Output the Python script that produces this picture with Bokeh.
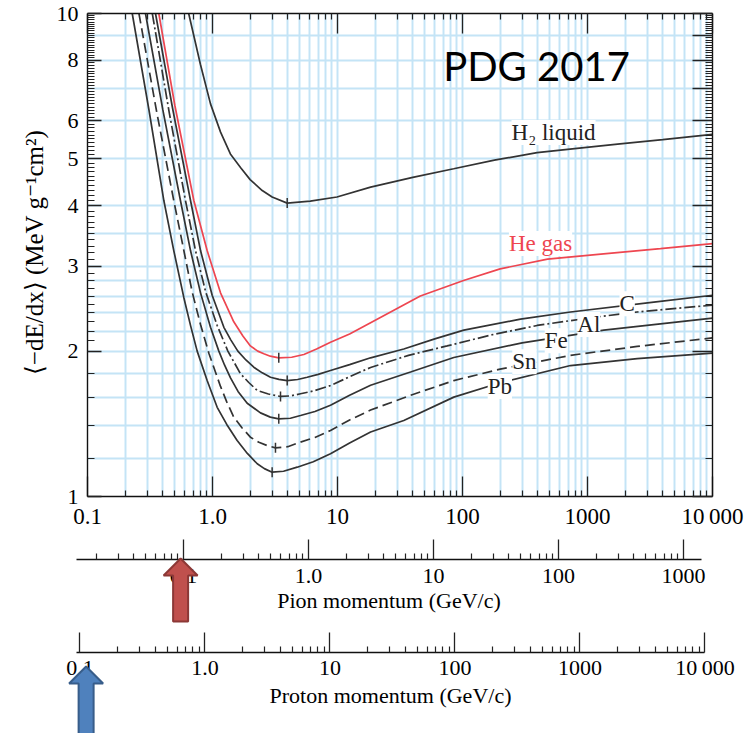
import numpy as np
from bokeh.plotting import figure
from bokeh.models import FixedTicker, LogAxis, Range1d, Label, LogScale, CustomJSTickFormatter
from bokeh.layouts import column
from bokeh.embed import file_html
from bokeh.resources import INLINE

# ---------------- data ----------------
# x: beta*gamma = p/Mc ; y: <-dE/dx> in MeV g^-1 cm^2
H2_BG = [0.645, 0.80, 0.964, 1.16, 1.39, 1.675, 2.0, 2.5, 3.0, 3.96, 6.06, 9.9, 18.4, 40, 85, 180, 395, 900, 1820, 4000, 10000]
H2_DEDX = [10.0, 7.85, 6.5, 5.68, 5.12, 4.80, 4.53, 4.30, 4.17, 4.05, 4.09, 4.17, 4.37, 4.58, 4.77, 4.97, 5.15, 5.27, 5.37, 5.48, 5.62]

HE_BG = [0.372, 0.5, 0.709, 0.906, 1.159, 1.48, 1.75, 2.01, 2.3, 2.575, 2.9, 3.39, 4.3, 5.38, 6.8, 8.79, 12.5, 18.4, 46, 102, 200, 479, 1343, 3837, 10000]
HE_DEDX = [10.0, 6.45, 4.10, 3.23, 2.64, 2.30, 2.15, 2.05, 2.0, 1.975, 1.952, 1.937, 1.942, 1.968, 2.02, 2.087, 2.17, 2.29, 2.60, 2.80, 2.96, 3.10, 3.18, 3.26, 3.34]

C_BG = [0.35, 0.48, 0.667, 0.802, 0.994, 1.233, 1.4, 1.595, 1.85, 2.14, 2.5, 2.91, 3.4, 3.96, 4.8, 5.72, 7.0, 8.79, 12.5, 18.4, 33.9, 60, 102.5, 291, 731, 3394, 10000]
C_DEDX = [10.0, 6.35, 4.10, 3.23, 2.61, 2.24, 2.11, 2.0, 1.917, 1.852, 1.803, 1.766, 1.748, 1.738, 1.747, 1.766, 1.79, 1.823, 1.875, 1.937, 2.02, 2.12, 2.21, 2.33, 2.41, 2.525, 2.61]

AL_BG = [0.33, 0.45, 0.608, 0.731, 0.879, 1.09, 1.327, 1.675, 1.95, 2.28, 2.8, 3.5, 4.2, 5.06, 6.5, 8.79, 12.5, 18.4, 37, 75.4, 170, 395, 1000, 2497, 10000]
AL_DEDX = [10.0, 6.25, 4.10, 3.23, 2.66, 2.26, 2.0, 1.795, 1.722, 1.658, 1.63, 1.611, 1.615, 1.632, 1.655, 1.697, 1.77, 1.85, 1.96, 2.05, 2.16, 2.26, 2.34, 2.41, 2.49]

FE_BG = [0.291, 0.40, 0.554, 0.667, 0.802, 0.964, 1.124, 1.25, 1.393, 1.6, 1.895, 2.42, 2.9, 3.39, 4.2, 5.06, 6.6, 8.79, 12.5, 18.4, 38.4, 85.2, 300, 1351, 10000]
FE_DEDX = [10.0, 6.33, 4.10, 3.23, 2.64, 2.24, 2.0, 1.87, 1.76, 1.65, 1.56, 1.49, 1.46, 1.448, 1.452, 1.471, 1.50, 1.545, 1.62, 1.70, 1.81, 1.94, 2.08, 2.21, 2.34]

SN_BG = [0.258, 0.36, 0.49, 0.59, 0.688, 0.802, 0.935, 1.159, 1.3, 1.48, 1.72, 2.01, 2.35, 2.74, 3.19, 4.0, 5.06, 6.6, 8.79, 12.5, 18.4, 38.4, 85.2, 200, 731, 2500, 10000]
SN_DEDX = [10.0, 6.2, 4.10, 3.23, 2.65, 2.27, 1.98, 1.69, 1.57, 1.46, 1.388, 1.327, 1.295, 1.275, 1.261, 1.268, 1.296, 1.325, 1.37, 1.44, 1.51, 1.62, 1.738, 1.835, 1.96, 2.045, 2.13]

PB_BG = [0.228, 0.31, 0.408, 0.49, 0.59, 0.67, 0.754, 0.906, 1.09, 1.3, 1.575, 1.9, 2.28, 2.6, 3.0, 3.7, 4.76, 6.4, 8.79, 12.5, 18.4, 33.9, 85.2, 200, 731, 2500, 10000]
PB_DEDX = [10.0, 6.32, 4.10, 3.23, 2.58, 2.25, 2.0, 1.738, 1.53, 1.41, 1.306, 1.228, 1.169, 1.142, 1.123, 1.128, 1.15, 1.18, 1.226, 1.29, 1.36, 1.437, 1.606, 1.72, 1.867, 1.93, 1.98]

# minimum-ionization markers (H2, He, C, Al, Fe, Sn, Pb)
MIN_BG = [3.96, 3.39, 3.96, 3.5, 3.39, 3.19, 3.0]
MIN_DEDX = [4.05, 1.937, 1.738, 1.611, 1.448, 1.261, 1.123]

CURVE_LABELS = ["H\u2082 liquid", "He gas", "C", "Al", "Fe", "Sn", "Pb"]

X_TICKS = [0.1, 1, 10, 100, 1000, 10000]
X_TICK_LABELS = ["0.1", "1.0", "10", "100", "1000", "10\u2009000"]
Y_TICKS = [1, 2, 3, 4, 5, 6, 8, 10]
Y_TICK_LABELS = ["1", "2", "3", "4", "5", "6", "8", "10"]
Y_RIGHT_TICKS = [1, 2, 3, 4, 5, 6, 7, 8, 9, 10]
Y_GRID = [1.2, 1.4, 1.6, 1.8, 2, 2.2, 2.4, 2.6, 2.8, 3, 3.5, 4, 5, 6, 7, 8, 9]

PION_MASS = 0.13957    # GeV/c^2
PROTON_MASS = 0.93827  # GeV/c^2
PION_TICKS = [0.1, 1, 10, 100, 1000]
PION_TICK_LABELS = ["0.1", "1.0", "10", "100", "1000"]
PROTON_TICKS = [0.1, 1, 10, 100, 1000, 10000]
PROTON_TICK_LABELS = ["0.1", "1.0", "10", "100", "1000", "10\u2009000"]
RED_ARROW_P = 0.095      # pion momentum marked by the red arrow (GeV/c)
BLUE_ARROW_P = 0.112     # proton momentum marked by the blue arrow (GeV/c)

# ---------------- style ----------------
SERIF = "Liberation Serif"
INK = "#333333"
RED = "#ee4650"
GRID = "#c4e4f6"


def log_minor(lo, hi):
    return [m * 10.0 ** e for e in range(lo, hi) for m in range(2, 10)]


def labeller(ticks, labels):
    return CustomJSTickFormatter(args=dict(vals=ticks, labs=labels), code="""
        for (let i = 0; i < vals.length; i++) {
            if (Math.abs(Math.log10(vals[i]) - Math.log10(tick)) < 1e-6) { return labs[i]; }
        }
        return "";
    """)


def style_axis(ax, major_in, minor_in, size="22px"):
    ax.major_tick_in = major_in
    ax.major_tick_out = 0
    ax.minor_tick_in = minor_in
    ax.minor_tick_out = 0
    ax.axis_line_color = "#111111"
    ax.axis_line_width = 1.4
    ax.major_tick_line_color = "#222222"
    ax.minor_tick_line_color = "#222222"
    ax.major_tick_line_width = 1.3
    ax.minor_tick_line_width = 1.2
    ax.major_label_text_font = SERIF
    ax.major_label_text_font_size = size
    ax.major_label_text_color = "black"
    ax.axis_label_text_font = SERIF
    ax.axis_label_text_font_size = "22px"
    ax.axis_label_text_font_style = "normal"
    ax.axis_label_text_color = "black"


def hide_labels(ax):
    ax.major_label_text_font_size = "1px"
    ax.major_label_text_alpha = 0.0
    ax.major_label_standoff = 0


X_MINOR = log_minor(-1, 4)
Y_MINOR = [1.2, 1.4, 1.6, 1.8] + [round(a + 0.1 * i, 1) for a in range(2, 10) for i in range(1, 10)]

# ---------------- main figure ----------------
p = figure(width=755, height=536, x_axis_type="log", y_axis_type="log",
           x_range=Range1d(0.1, 10000), y_range=Range1d(1, 10),
           output_backend="svg", toolbar_location=None, frame_align=False,
           min_border_left=87, min_border_right=43, min_border_top=13, min_border_bottom=40)
p.outline_line_color = None
p.background_fill_color = "white"
p.border_fill_color = "white"

xax = p.xaxis[0]
xax.ticker = FixedTicker(ticks=X_TICKS, minor_ticks=X_MINOR)
xax.formatter = labeller(X_TICKS, X_TICK_LABELS)
style_axis(xax, 20, 6, "23px")
xax.major_label_standoff = 7

yax = p.yaxis[0]
yax.ticker = FixedTicker(ticks=Y_TICKS, minor_ticks=Y_MINOR + [7, 9])
yax.formatter = labeller(Y_TICKS, Y_TICK_LABELS)
style_axis(yax, 14, 7)
yax.major_label_standoff = 9
yax.axis_label = "\u27e8\u2212dE/dx\u27e9 (MeV g\u207b\u00b9cm\u00b2)"
yax.axis_label_text_font_size = "25px"
yax.axis_label_standoff = 6

top = LogAxis(ticker=FixedTicker(ticks=X_TICKS, minor_ticks=X_MINOR))
style_axis(top, 20, 6)
hide_labels(top)
p.add_layout(top, "above")

right = LogAxis(ticker=FixedTicker(ticks=Y_RIGHT_TICKS, minor_ticks=Y_MINOR))
style_axis(right, 20, 7)
hide_labels(right)
p.add_layout(right, "right")

p.xgrid.ticker = FixedTicker(ticks=X_MINOR + [1, 10, 100, 1000])
p.ygrid.ticker = FixedTicker(ticks=Y_GRID)
for g in (p.xgrid, p.ygrid):
    g.grid_line_color = GRID
    g.grid_line_width = 2

LW = 1.7
p.line(H2_BG, H2_DEDX, line_color=INK, line_width=LW)
p.line(HE_BG, HE_DEDX, line_color=RED, line_width=LW)
p.line(C_BG, C_DEDX, line_color=INK, line_width=LW)
p.line(AL_BG, AL_DEDX, line_color=INK, line_width=LW, line_dash="11 3 2 3")
p.line(FE_BG, FE_DEDX, line_color=INK, line_width=LW)
p.line(SN_BG, SN_DEDX, line_color=INK, line_width=LW, line_dash="10 5")
p.line(PB_BG, PB_DEDX, line_color=INK, line_width=LW)
p.scatter(MIN_BG, MIN_DEDX, marker="dash", angle=np.pi / 2, size=10,
          line_color=INK, line_width=1.5)

label_pos = [(535, 5.67), (421, 3.34), (2076, 2.506), (1025, 2.27), (562, 2.10), (313, 1.90), (199, 1.69)]
for txt, (lx, ly) in zip(CURVE_LABELS, label_pos):
    p.add_layout(Label(x=lx, y=ly, text=txt, text_align="center", text_baseline="middle",
                       text_font=SERIF, text_font_size="23px",
                       text_color=RED if txt == "He gas" else "#222222",
                       background_fill_color="white"))

p.add_layout(Label(x=391, y=7.8, text="PDG 2017", text_align="center", text_baseline="middle",
                   text_font="Lato", text_font_size="40px", text_color="black"))

# ---------------- momentum scales (one figure, axes at fixed positions) ----------------
LOW_H = 197            # height of the lower panel (px)
LOW_LEFT = 40          # left edge of the lower panel's frame (px)
AXIS_START = 76        # where the momentum scales begin (px)
PX_PER_DECADE = 125.0
PION_AXIS_Y = 174      # position of the pion axis line inside the lower panel
PROTON_AXIS_Y = 81     # position of the proton axis line


def scale_range(mass):
    p0 = 0.1 * mass   # momentum at beta*gamma = 0.1
    return Range1d(p0 * 10 ** (-(AXIS_START - LOW_LEFT) / PX_PER_DECADE),
                   p0 * 10 ** ((755 - AXIS_START) / PX_PER_DECADE))


low = figure(width=755, height=LOW_H, x_axis_type="log",
             x_range=scale_range(PION_MASS),
             y_range=Range1d(0, LOW_H), x_axis_location=None, y_axis_location=None,
             output_backend="svg", toolbar_location=None, frame_align=False,
             min_border_left=LOW_LEFT, min_border_right=0, min_border_top=0, min_border_bottom=0)
low.extra_x_ranges = {"proton": scale_range(PROTON_MASS)}
low.extra_x_scales = {"proton": LogScale()}
low.outline_line_color = None
low.grid.visible = False

pion_ax = LogAxis(ticker=FixedTicker(ticks=PION_TICKS, minor_ticks=log_minor(-2, 3)),
                  formatter=labeller(PION_TICKS, PION_TICK_LABELS),
                  fixed_location=PION_AXIS_Y, bounds=(0.1 * PION_MASS, 10000 * PION_MASS),
                  axis_label="Pion momentum (GeV/c)")
style_axis(pion_ax, 20, 6)
pion_ax.major_label_standoff = 9
pion_ax.axis_label_standoff = 2
low.add_layout(pion_ax, "below")

proton_ax = LogAxis(x_range_name="proton",
                    ticker=FixedTicker(ticks=PROTON_TICKS, minor_ticks=log_minor(-1, 4)),
                    formatter=labeller(PROTON_TICKS, PROTON_TICK_LABELS),
                    fixed_location=PROTON_AXIS_Y, bounds=(0.1 * PROTON_MASS, 10000),
                    axis_label="Proton momentum (GeV/c)")
style_axis(proton_ax, 20, 6)
proton_ax.major_label_standoff = 2
proton_ax.axis_label_standoff = 0
low.add_layout(proton_ax, "below")


def arrow_shape(p_center, tip_y, length):
    # block arrow pointing up; widths in pixels converted along the log axis
    k = lambda dx: p_center * 10 ** (dx / PX_PER_DECADE)
    head_w, shaft_w, head_h = 17, 7.5, 17
    xs = [k(0), k(head_w), k(shaft_w), k(shaft_w), k(-shaft_w), k(-shaft_w), k(-head_w)]
    ys = [tip_y, tip_y - head_h, tip_y - head_h, tip_y - length, tip_y - length,
          tip_y - head_h, tip_y - head_h]
    return xs, ys


rx, ry = arrow_shape(RED_ARROW_P, PION_AXIS_Y + 1, 63)
r1 = low.patch(rx, ry, fill_color="#c0504d", line_color="#8c3836", line_width=2)
r1.level = "overlay"
bx, by = arrow_shape(BLUE_ARROW_P, PROTON_AXIS_Y - 14, 85)
r2 = low.patch(bx, by, x_range_name="proton", fill_color="#4f81bd", line_color="#385d8a", line_width=2)
r2.level = "overlay"

layout = column(p, low, spacing=0)
open("out.html", "w").write(file_html(layout, INLINE))
